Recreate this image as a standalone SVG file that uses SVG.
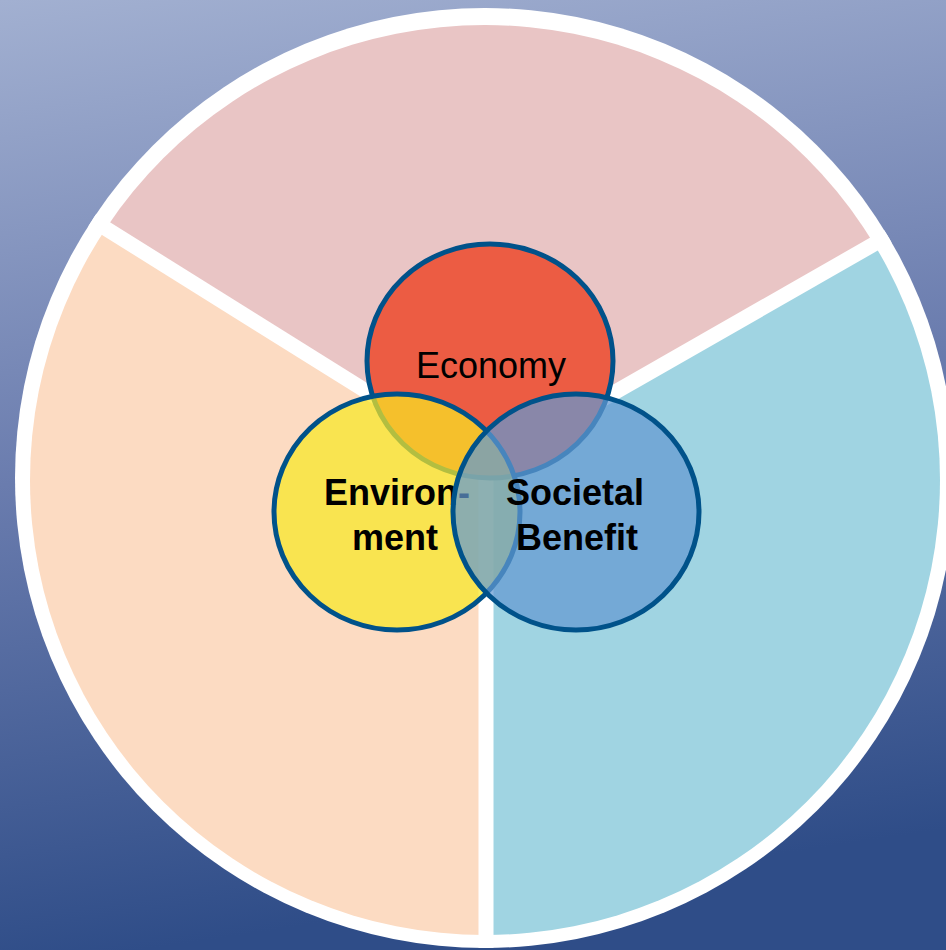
<svg xmlns="http://www.w3.org/2000/svg" width="946" height="950" viewBox="0 0 946 950">
  <defs>
    <linearGradient id="bg" x1="0" y1="0" x2="0.15" y2="1">
      <stop offset="0" stop-color="#a2b0d1"/>
      <stop offset="0.5" stop-color="#6a7cae"/>
      <stop offset="1" stop-color="#2f4d88"/>
    </linearGradient>
    <clipPath id="disc">
      <circle cx="485" cy="480" r="455"/>
    </clipPath>
    <clipPath id="outer">
      <circle cx="485" cy="478" r="470"/>
    </clipPath>
    <style>
      .gap { stroke: #ffffff; stroke-width: 15; fill: none; stroke-linecap: butt; }
      .ring { stroke: #00528a; stroke-width: 5; }
      .lbl { font-family: "Liberation Sans", Arial, sans-serif; font-size: 36px; fill: #000000; text-anchor: middle; }
      .b { font-weight: bold; }
    </style>
  </defs>

  <!-- background -->
  <rect x="0" y="0" width="946" height="950" fill="url(#bg)"/>

  <!-- outer white ring -->
  <circle cx="485" cy="478" r="470" fill="#ffffff"/>

  <!-- three pastel sectors -->
  <g id="sectors" clip-path="url(#disc)">
    <path id="sector-top" d="M486,466 L-23,148 L-23,-200 L1010,-200 L1007,168 Z" fill="#e9c5c5"/>
    <path id="sector-left" d="M486,466 L-23,148 L-23,1000 L486,1000 Z" fill="#fcdbc2"/>
    <path id="sector-right" d="M486,466 L486,1000 L1010,1000 L1007,168 Z" fill="#a0d4e2"/>
  </g>

  <!-- white separators between sectors -->
  <g id="connectors" clip-path="url(#outer)">
    <line class="gap" x1="486" y1="466" x2="486" y2="960"/>
    <line class="gap" x1="486" y1="466" x2="-23" y2="148"/>
    <line class="gap" x1="486" y1="466" x2="1007" y2="168"/>
  </g>

  <!-- Venn circles -->
  <g id="economy">
    <ellipse class="ring" cx="490" cy="361" rx="123" ry="117" fill="#ec5c43"/>
    <text class="lbl" x="491" y="378">Economy</text>
  </g>

  <g id="environment">
    <ellipse class="ring" cx="397" cy="512" rx="123" ry="118" fill="#f8e724" fill-opacity="0.72"/>
    <text class="lbl b" x="397" y="505">Environ-</text>
    <text class="lbl b" x="395" y="550">ment</text>
  </g>

  <g id="societal-benefit">
    <ellipse class="ring" cx="576" cy="512" rx="123" ry="118" fill="#6398d1" fill-opacity="0.72"/>
    <text class="lbl b" x="575" y="505">Societal</text>
    <text class="lbl b" x="577" y="550">Benefit</text>
  </g>
</svg>
